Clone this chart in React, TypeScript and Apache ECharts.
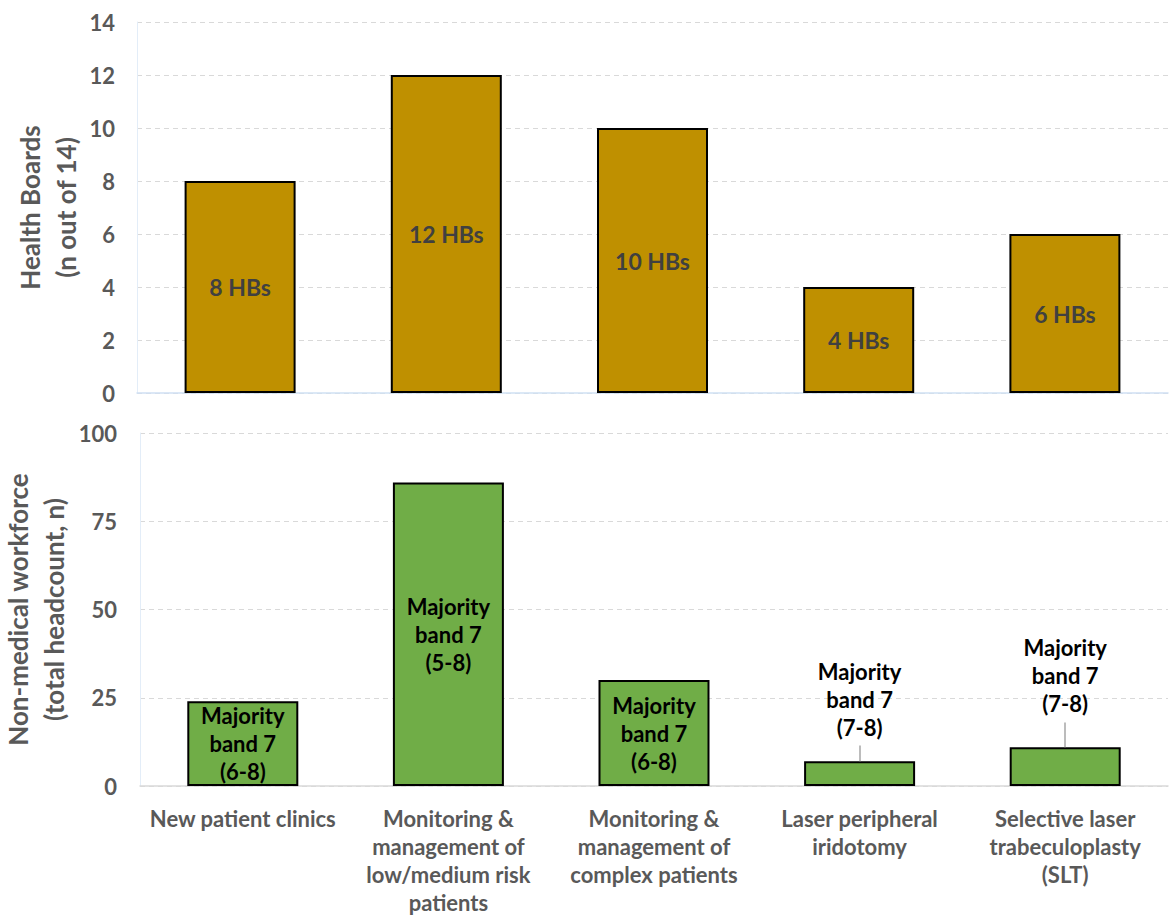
import React, { useEffect, useRef } from "react";
import * as echarts from "echarts";

const categories = [
  "New patient clinics",
  "Monitoring &\nmanagement of\nlow/medium risk\npatients",
  "Monitoring &\nmanagement of\ncomplex patients",
  "Laser peripheral\niridotomy",
  "Selective laser\ntrabeculoplasty\n(SLT)",
];
const healthBoards = [8, 12, 10, 4, 6];
const hbLabels = ["8 HBs", "12 HBs", "10 HBs", "4 HBs", "6 HBs"];
const workforce = [24, 86, 30, 7, 11];
const bandLabels = [
  "Majority\nband 7\n(6-8)",
  "Majority\nband 7\n(5-8)",
  "Majority\nband 7\n(6-8)",
  "Majority\nband 7\n(7-8)",
  "Majority\nband 7\n(7-8)",
];
const labelOutside = [false, false, false, true, true];
const leaderTop = [0, 0, 0, 11.5, 18];
const topTicks = [0, 14, 2];
const bottomTicks = [0, 100, 25];

const FONT = "Lato, 'Open Sans', sans-serif";
const GRAY = "#595959";

export default function App() {
  const ref = useRef<HTMLDivElement>(null);
  useEffect(() => {
    document.body.style.margin = "0";
    const chart = echarts.init(ref.current!, null, { renderer: "svg" });
    const axisLabel = {
      color: GRAY,
      fontFamily: FONT,
      fontWeight: "bold" as const,
      fontSize: 22,
      margin: 22,
    };
    const nameStyle = {
      color: GRAY,
      fontFamily: FONT,
      fontWeight: "bold" as const,
      fontSize: 26,
      lineHeight: 36,
    };
    const leaderData = workforce
      .map((v, i) =>
        labelOutside[i]
          ? [
              { coord: [i, v] },
              { coord: [i, leaderTop[i]] },
            ]
          : null
      )
      .filter((d) => d !== null);
    chart.setOption({
      animation: false,
      grid: [
        { left: 137, right: 2, top: 22, height: 371, outerBoundsMode: "none" },
        { left: 140, right: 2, top: 433, height: 353, outerBoundsMode: "none" },
      ],
      xAxis: [
        {
          type: "category",
          gridIndex: 0,
          data: categories,
          axisLabel: { show: false },
          axisTick: { show: false },
          axisLine: { lineStyle: { color: "#cfe0f3", width: 1.5 } },
        },
        {
          type: "category",
          gridIndex: 1,
          data: categories,
          axisTick: { show: false },
          axisLine: { lineStyle: { color: "#d9d9d9", width: 1.5 } },
          axisLabel: {
            color: GRAY,
            fontFamily: FONT,
            fontWeight: "bold",
            fontSize: 22,
            lineHeight: 28,
            margin: 18,
            interval: 0,
            verticalAlign: "top",
          },
        },
      ],
      yAxis: [
        {
          type: "value",
          gridIndex: 0,
          min: topTicks[0],
          max: topTicks[1],
          interval: topTicks[2],
          axisLabel,
          axisLine: { show: true, lineStyle: { color: "#e3edf8" } },
          splitLine: { lineStyle: { color: "#d9d9d9", type: [5, 4], width: 1.2 } },
          name: "Health Boards\n(n out of 14)",
          nameLocation: "middle",
          nameGap: 53,
          nameMoveOverlap: false,
          nameTextStyle: nameStyle,
        },
        {
          type: "value",
          gridIndex: 1,
          min: bottomTicks[0],
          max: bottomTicks[1],
          interval: bottomTicks[2],
          axisLabel: { ...axisLabel, margin: 23 },
          axisLine: { show: true, lineStyle: { color: "#e3edf8" } },
          splitLine: { lineStyle: { color: "#d9d9d9", type: [5, 4], width: 1.2 } },
          name: "Non-medical workforce\n(total headcount, n)",
          nameLocation: "middle",
          nameGap: 68,
          nameMoveOverlap: false,
          nameTextStyle: nameStyle,
        },
      ],
      series: [
        {
          type: "bar",
          xAxisIndex: 0,
          yAxisIndex: 0,
          barWidth: 111,
          data: healthBoards.map((v, i) => ({
            value: v,
            label: { formatter: hbLabels[i] },
          })),
          itemStyle: { color: "#BF9000", borderColor: "#000", borderWidth: 2 },
          label: {
            show: true,
            position: "inside",
            color: "#404040",
            fontFamily: FONT,
            fontWeight: "bold",
            fontSize: 23,
          },
        },
        {
          type: "bar",
          xAxisIndex: 1,
          yAxisIndex: 1,
          barWidth: 111,
          data: workforce.map((v, i) => ({
            value: v,
            label: labelOutside[i]
              ? { formatter: bandLabels[i], position: "top", distance: i === 3 ? 20 : 30 }
              : { formatter: bandLabels[i], position: "inside" },
          })),
          itemStyle: { color: "#70AD47", borderColor: "#000", borderWidth: 2 },
          label: {
            show: true,
            color: "#000",
            fontFamily: FONT,
            fontWeight: "bold",
            fontSize: 22,
            lineHeight: 28,
          },
          markLine: {
            silent: true,
            symbol: "none",
            label: { show: false },
            lineStyle: { color: "#a6a6a6", type: "solid", width: 1.5 },
            data: leaderData,
          },
        },
      ],
    });
    return () => chart.dispose();
  }, []);
  return <div ref={ref} style={{ width: 1170, height: 915 }} />;
}
